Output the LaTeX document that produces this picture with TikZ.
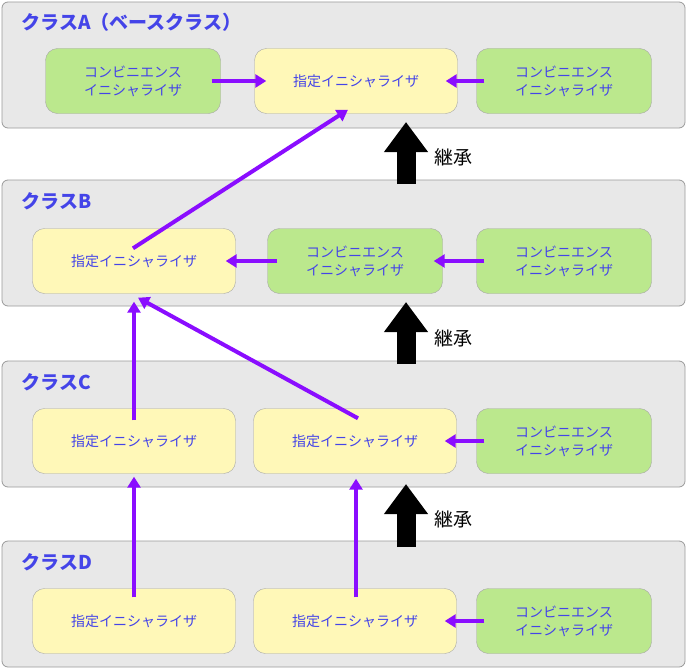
\documentclass[tikz,border=0pt]{standalone}
\usepackage{fontspec}
\setmainfont{Noto Sans CJK JP}
\usetikzlibrary{positioning,calc,arrows.meta}
\definecolor{panelgray}{HTML}{E8E8E8}
\definecolor{inityellow}{HTML}{FFF8B8}
\definecolor{convgreen}{HTML}{BBE88D}
\definecolor{titleblue}{HTML}{4444E8}
\definecolor{arrowpurple}{HTML}{8A0DFF}
\tikzset{
	panel/.style={draw=gray!80, fill=panelgray, rounded corners=6pt, line width=0.8pt},
	title/.style={anchor=west, text=titleblue, font=\fontsize{19}{19}\selectfont\bfseries},
	desig/.style={draw=gray!70, fill=inityellow, rounded corners=12pt, minimum width=203pt, minimum height=65pt, text=titleblue, font=\fontsize{14}{18}\selectfont, align=center},
	conv/.style={desig, fill=convgreen, minimum width=175pt},
	call/.style={-{Triangle[width=13pt,length=11pt]}, arrowpurple, line width=4pt},
	inherit/.style={-{Triangle[width=42pt,length=30pt]}, black, line width=19pt},
}
\begin{document}
\begin{tikzpicture}[x=1pt,y=-1pt]
	\useasboundingbox (0,0) rectangle (687,669);
	% panels
	\draw[panel] (2,2) rectangle (685,128);
	\draw[panel] (2,180) rectangle (685,306);
	\draw[panel] (2,361) rectangle (685,487);
	\draw[panel] (2,541) rectangle (685,667);
	\node[title] (ta) at (18,22) {クラスA（ベースクラス）};
	\node[title] (tb) at (18,201) {クラスB};
	\node[title] (tc) at (18,382) {クラスC};
	\node[title] (td) at (18,562) {クラスD};

	% class A
	\node[conv]  (a1) at (133,81) {コンビニエンス\\イニシャライザ};
	\node[desig] (a2) at (356,81) {指定イニシャライザ};
	\node[conv]  (a3) at (564,81) {コンビニエンス\\イニシャライザ};
	% class B
	\node[desig] (b1) at (134,261) {指定イニシャライザ};
	\node[conv]  (b2) at (355,261) {コンビニエンス\\イニシャライザ};
	\node[conv]  (b3) at (564,261) {コンビニエンス\\イニシャライザ};
	% class C
	\node[desig] (c1) at (134,441) {指定イニシャライザ};
	\node[desig] (c2) at (355,441) {指定イニシャライザ};
	\node[conv]  (c3) at (564,441) {コンビニエンス\\イニシャライザ};
	% class D
	\node[desig] (d1) at (134,621) {指定イニシャライザ};
	\node[desig] (d2) at (355,621) {指定イニシャライザ};
	\node[conv]  (d3) at (564,621) {コンビニエンス\\イニシャライザ};

	\draw[call] ([xshift=-9pt]a1.east) -- ([xshift=12pt]a2.west);
	\draw[call] ([xshift=8pt]a3.west) -- ([xshift=-12pt]a2.east);
	\draw[call] ([xshift=-1pt,yshift=-20pt]b1.north) -- ([xshift=-8pt,yshift=4pt]a2.south);
	\draw[call] ([xshift=10pt]b2.west) -- ([xshift=-10pt]b1.east);
	\draw[call] ([xshift=8pt]b3.west) -- ([xshift=-9pt]b2.east);
	\draw[call] ([yshift=-12pt]c1.north) -- ([yshift=-8pt]b1.south);
	\draw[call] ([xshift=3pt,yshift=-10pt]c2.north) -- ([xshift=4pt,yshift=-4pt]b1.south);
	\draw[call] ([xshift=8pt]c3.west) -- ([xshift=-12pt]c2.east);
	\draw[call] ([yshift=-9pt]d1.north) -- ([yshift=-3pt]c1.south);
	\draw[call] ([xshift=1pt,yshift=-9pt]d2.north) -- ([xshift=1pt,yshift=-5pt]c2.south);
	\draw[call] ([xshift=8pt]d3.west) -- ([xshift=-12pt]d2.east);

	% inheritance
	\coordinate (ia) at (406,122);
	\coordinate (ib) at (406,302);
	\coordinate (ic) at (406,484);
	\draw[inherit] (406,184) -- (ia);
	\draw[inherit] (406,364) -- (ib);
	\draw[inherit] (406,547) -- (ic);
	\node[anchor=west, font=\fontsize{19}{19}\selectfont] (la) at (431,157) {継承};
	\node[anchor=west, font=\fontsize{19}{19}\selectfont] (lb) at (431,338) {継承};
	\node[anchor=west, font=\fontsize{19}{19}\selectfont] (lc) at (431,519) {継承};
\end{tikzpicture}
\end{document}
